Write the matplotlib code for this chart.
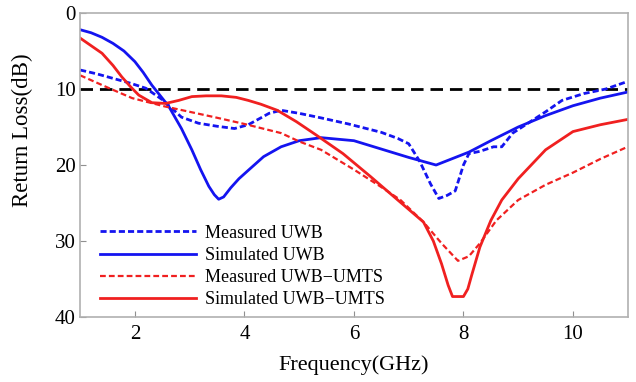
import matplotlib
matplotlib.use('Agg')
import matplotlib.pyplot as plt

# Measured UWB (blue dashed)
meas_uwb_f = [1.0, 1.3, 1.6, 1.9, 2.2, 2.5, 2.85, 3.16, 3.5, 3.82, 4.07, 4.3, 4.45, 4.67, 5.0, 5.4,
              5.9, 6.5, 6.8, 7.0, 7.2, 7.4, 7.55, 7.7, 7.85, 8.0, 8.1, 8.3, 8.55, 8.7, 8.9,
              9.2, 9.5, 9.8, 10.2, 10.6, 11.0]
meas_uwb_rl = [7.5, 8.0, 8.6, 9.2, 9.9, 11.4, 13.7, 14.5, 14.9, 15.2, 14.7, 13.8, 13.2, 12.8, 13.2, 13.8,
               14.6, 15.7, 16.5, 17.2, 19.5, 22.5, 24.4, 24.0, 23.4, 20.0, 18.5, 18.2, 17.6, 17.6, 15.8,
               14.4, 13.0, 11.5, 10.6, 10.0, 9.0]

# Simulated UWB (blue solid)
sim_uwb_f = [1.0, 1.2, 1.4, 1.6, 1.8, 2.0, 2.15, 2.31, 2.62, 2.85, 3.04, 3.2, 3.35, 3.45, 3.53,
             3.62, 3.75, 3.9, 4.07, 4.35, 4.67, 5.0, 5.4, 6.0, 6.5, 7.0, 7.5, 8.1, 8.5, 9.0,
             9.5, 10.0, 10.5, 11.0]
sim_uwb_rl = [2.2, 2.6, 3.2, 4.0, 5.0, 6.4, 7.8, 9.5, 12.3, 15.2, 18.0, 20.6, 22.8, 23.9, 24.5,
              24.2, 23.0, 21.8, 20.7, 18.9, 17.6, 16.8, 16.4, 16.8, 17.9, 19.0, 20.0, 18.3, 16.8, 15.0,
              13.5, 12.2, 11.2, 10.4]

# Measured UWB-UMTS (red dashed)
meas_umts_f = [1.0, 1.5, 1.95, 2.55, 3.0, 3.45, 4.0, 4.67, 5.0, 5.4, 6.0, 6.5, 6.85, 7.27, 7.6,
               7.9, 8.1, 8.3, 8.6, 9.0, 9.5, 10.0, 10.5, 11.0]
meas_umts_rl = [8.2, 9.8, 11.2, 12.3, 13.0, 13.7, 14.6, 15.8, 16.9, 18.0, 20.6, 22.9, 24.6, 27.5, 30.3,
                32.6, 32.0, 30.3, 27.3, 24.6, 22.6, 21.0, 19.2, 17.6]

# Simulated UWB-UMTS (red solid)
sim_umts_f = [1.0, 1.2, 1.4, 1.6, 1.76, 1.92, 2.07, 2.31, 2.56, 2.8, 3.04, 3.3, 3.58, 3.85, 4.07,
              4.3, 4.6, 4.95, 5.3, 5.8, 6.3, 6.8, 7.27, 7.45, 7.6, 7.72, 7.8, 8.0, 8.08, 8.15,
              8.3, 8.5, 8.7, 9.0, 9.5, 10.0, 10.5, 11.0]
sim_umts_rl = [3.3, 4.3, 5.3, 6.9, 8.4, 9.7, 10.8, 11.8, 11.9, 11.5, 11.0, 10.9, 10.9, 11.1, 11.5,
               12.0, 12.8, 14.3, 16.0, 18.5, 21.5, 24.6, 27.5, 30.0, 33.0, 35.8, 37.3, 37.3, 36.3, 34.5,
               30.8, 27.3, 24.6, 21.8, 18.0, 15.6, 14.7, 14.0]

ref_f = [1.0, 11.0]
ref_rl = [10.0, 10.0]

x_ticks = [2, 4, 6, 8, 10]
y_ticks = [0, 10, 20, 30, 40]

plt.rcParams['font.family'] = ['Liberation Serif', 'DejaVu Serif']

fig = plt.figure(figsize=(6.36, 3.82), dpi=100)
ax = fig.add_axes([0.126, 0.170, 0.861, 0.796])

blue = '#1414f0'
red = '#f02020'

ax.plot(ref_f, ref_rl, color='black', lw=2, dashes=(4.5, 2.5))
ax.plot(meas_uwb_f, meas_uwb_rl, color=blue, lw=2, dashes=(2.2, 1.1), label='Measured UWB')
ax.plot(sim_uwb_f, sim_uwb_rl, color=blue, lw=2, label='Simulated UWB')
ax.plot(meas_umts_f, meas_umts_rl, color=red, lw=1.6, dashes=(2.6, 1.4),
        label='Measured UWB\u2212UMTS')
ax.plot(sim_umts_f, sim_umts_rl, color=red, lw=2, label='Simulated UWB\u2212UMTS')

ax.set_xlim(1, 11)
ax.set_ylim(40, 0)
ax.set_xticks(x_ticks)
ax.set_yticks(y_ticks)
ax.tick_params(direction='in', length=4, labelsize=15, color='#909090')
ax.tick_params(axis='x', pad=6)
ax.tick_params(axis='y', pad=3)

for s in ax.spines.values():
    s.set_color('#b0b0b0')
    s.set_linewidth(1.2)

ax.set_xlabel('Frequency(GHz)', fontsize=16, labelpad=8)
ax.set_ylabel('Return Loss(dB)', fontsize=16.5)
ax.yaxis.set_label_coords(-0.086, 0.615)

ax.legend(loc='lower left', bbox_to_anchor=(0.036, 0.03), frameon=False,
          fontsize=13, handlelength=5.3, handletextpad=0.55, labelspacing=0.28,
          borderpad=0, borderaxespad=0)

plt.savefig('out.png', dpi=100)
